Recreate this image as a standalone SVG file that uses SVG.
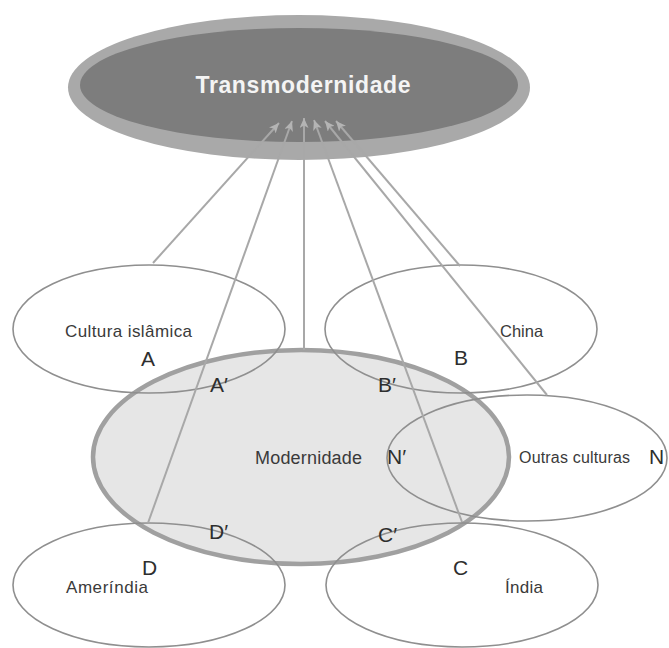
<svg xmlns="http://www.w3.org/2000/svg" width="669" height="648" viewBox="0 0 669 648">
<style>
.peri{fill:none;stroke:#8f8f8f;stroke-width:1.6}
.lbl{font-family:"Liberation Sans",Arial,sans-serif;fill:#3a3a3a}
.big{font-size:21px;fill:#2e2e2e}
.conn{stroke:#a8a8a8;stroke-width:2;fill:none;marker-end:url(#ah)}
</style>
<defs>
<marker id="ah" markerUnits="userSpaceOnUse" markerWidth="11" markerHeight="9" refX="10" refY="4.5" orient="auto">
<path d="M0,0 L10,4.5 L0,9 L2.5,4.5 z" fill="#b4b4b4"/>
</marker>
</defs>
<rect width="669" height="648" fill="#ffffff"/>
<g id="transmodernidade">
<ellipse cx="299" cy="87.5" rx="231" ry="72.5" fill="#a9a9a9"/>
<ellipse cx="299" cy="85" rx="219" ry="57" fill="#7d7d7d"/>
<text x="303" y="93" text-anchor="middle" font-family="'Liberation Sans',Arial,sans-serif" font-weight="bold" font-size="23" fill="#f4f4f4" textLength="215">Transmodernidade</text>
</g>
<g id="modernidade">
<ellipse cx="301" cy="457" rx="208" ry="107" fill="#e6e6e6" stroke="#a0a0a0" stroke-width="4.5"/>
<text class="lbl" x="255" y="464" font-size="18" fill="#3d3434" textLength="107">Modernidade</text>
<text class="lbl big" x="387" y="464">N′</text>
</g>
<g id="cultura-islamica">
<ellipse class="peri" cx="149" cy="329" rx="136" ry="64"/>
<text class="lbl" x="65" y="337" font-size="17" textLength="127">Cultura islâmica</text>
<text class="lbl big" x="141" y="366">A</text>
<text class="lbl big" x="210" y="392">A′</text>
</g>
<g id="china">
<ellipse class="peri" cx="461" cy="329" rx="136" ry="64"/>
<text class="lbl" x="500" y="337" font-size="16.5">China</text>
<text class="lbl big" x="454" y="365">B</text>
<text class="lbl big" x="378" y="392">B′</text>
</g>
<g id="outras-culturas">
<ellipse class="peri" cx="527" cy="458" rx="140" ry="63"/>
<text class="lbl" x="519" y="463" font-size="16" textLength="111">Outras culturas</text>
<text class="lbl big" x="649" y="464">N</text>
</g>
<g id="amerindia">
<ellipse class="peri" cx="149" cy="585" rx="136" ry="62"/>
<text class="lbl" x="66" y="593" font-size="17" textLength="82">Ameríndia</text>
<text class="lbl big" x="142" y="575">D</text>
<text class="lbl big" x="209" y="539">D′</text>
</g>
<g id="india">
<ellipse class="peri" cx="462" cy="585" rx="136" ry="62"/>
<text class="lbl" x="505" y="593" font-size="17" textLength="38">Índia</text>
<text class="lbl big" x="453" y="575">C</text>
<text class="lbl big" x="378" y="542">C′</text>
</g>
<g id="connectors">
<line class="conn" x1="153" y1="263" x2="279" y2="123"/>
<line class="conn" x1="148" y1="523" x2="292" y2="121"/>
<line class="conn" x1="304" y1="350" x2="304" y2="118"/>
<line class="conn" x1="462" y1="522" x2="314" y2="120"/>
<line class="conn" x1="547" y1="395" x2="325" y2="121"/>
<line class="conn" x1="460" y1="266" x2="336" y2="121"/>
</g>
</svg>
